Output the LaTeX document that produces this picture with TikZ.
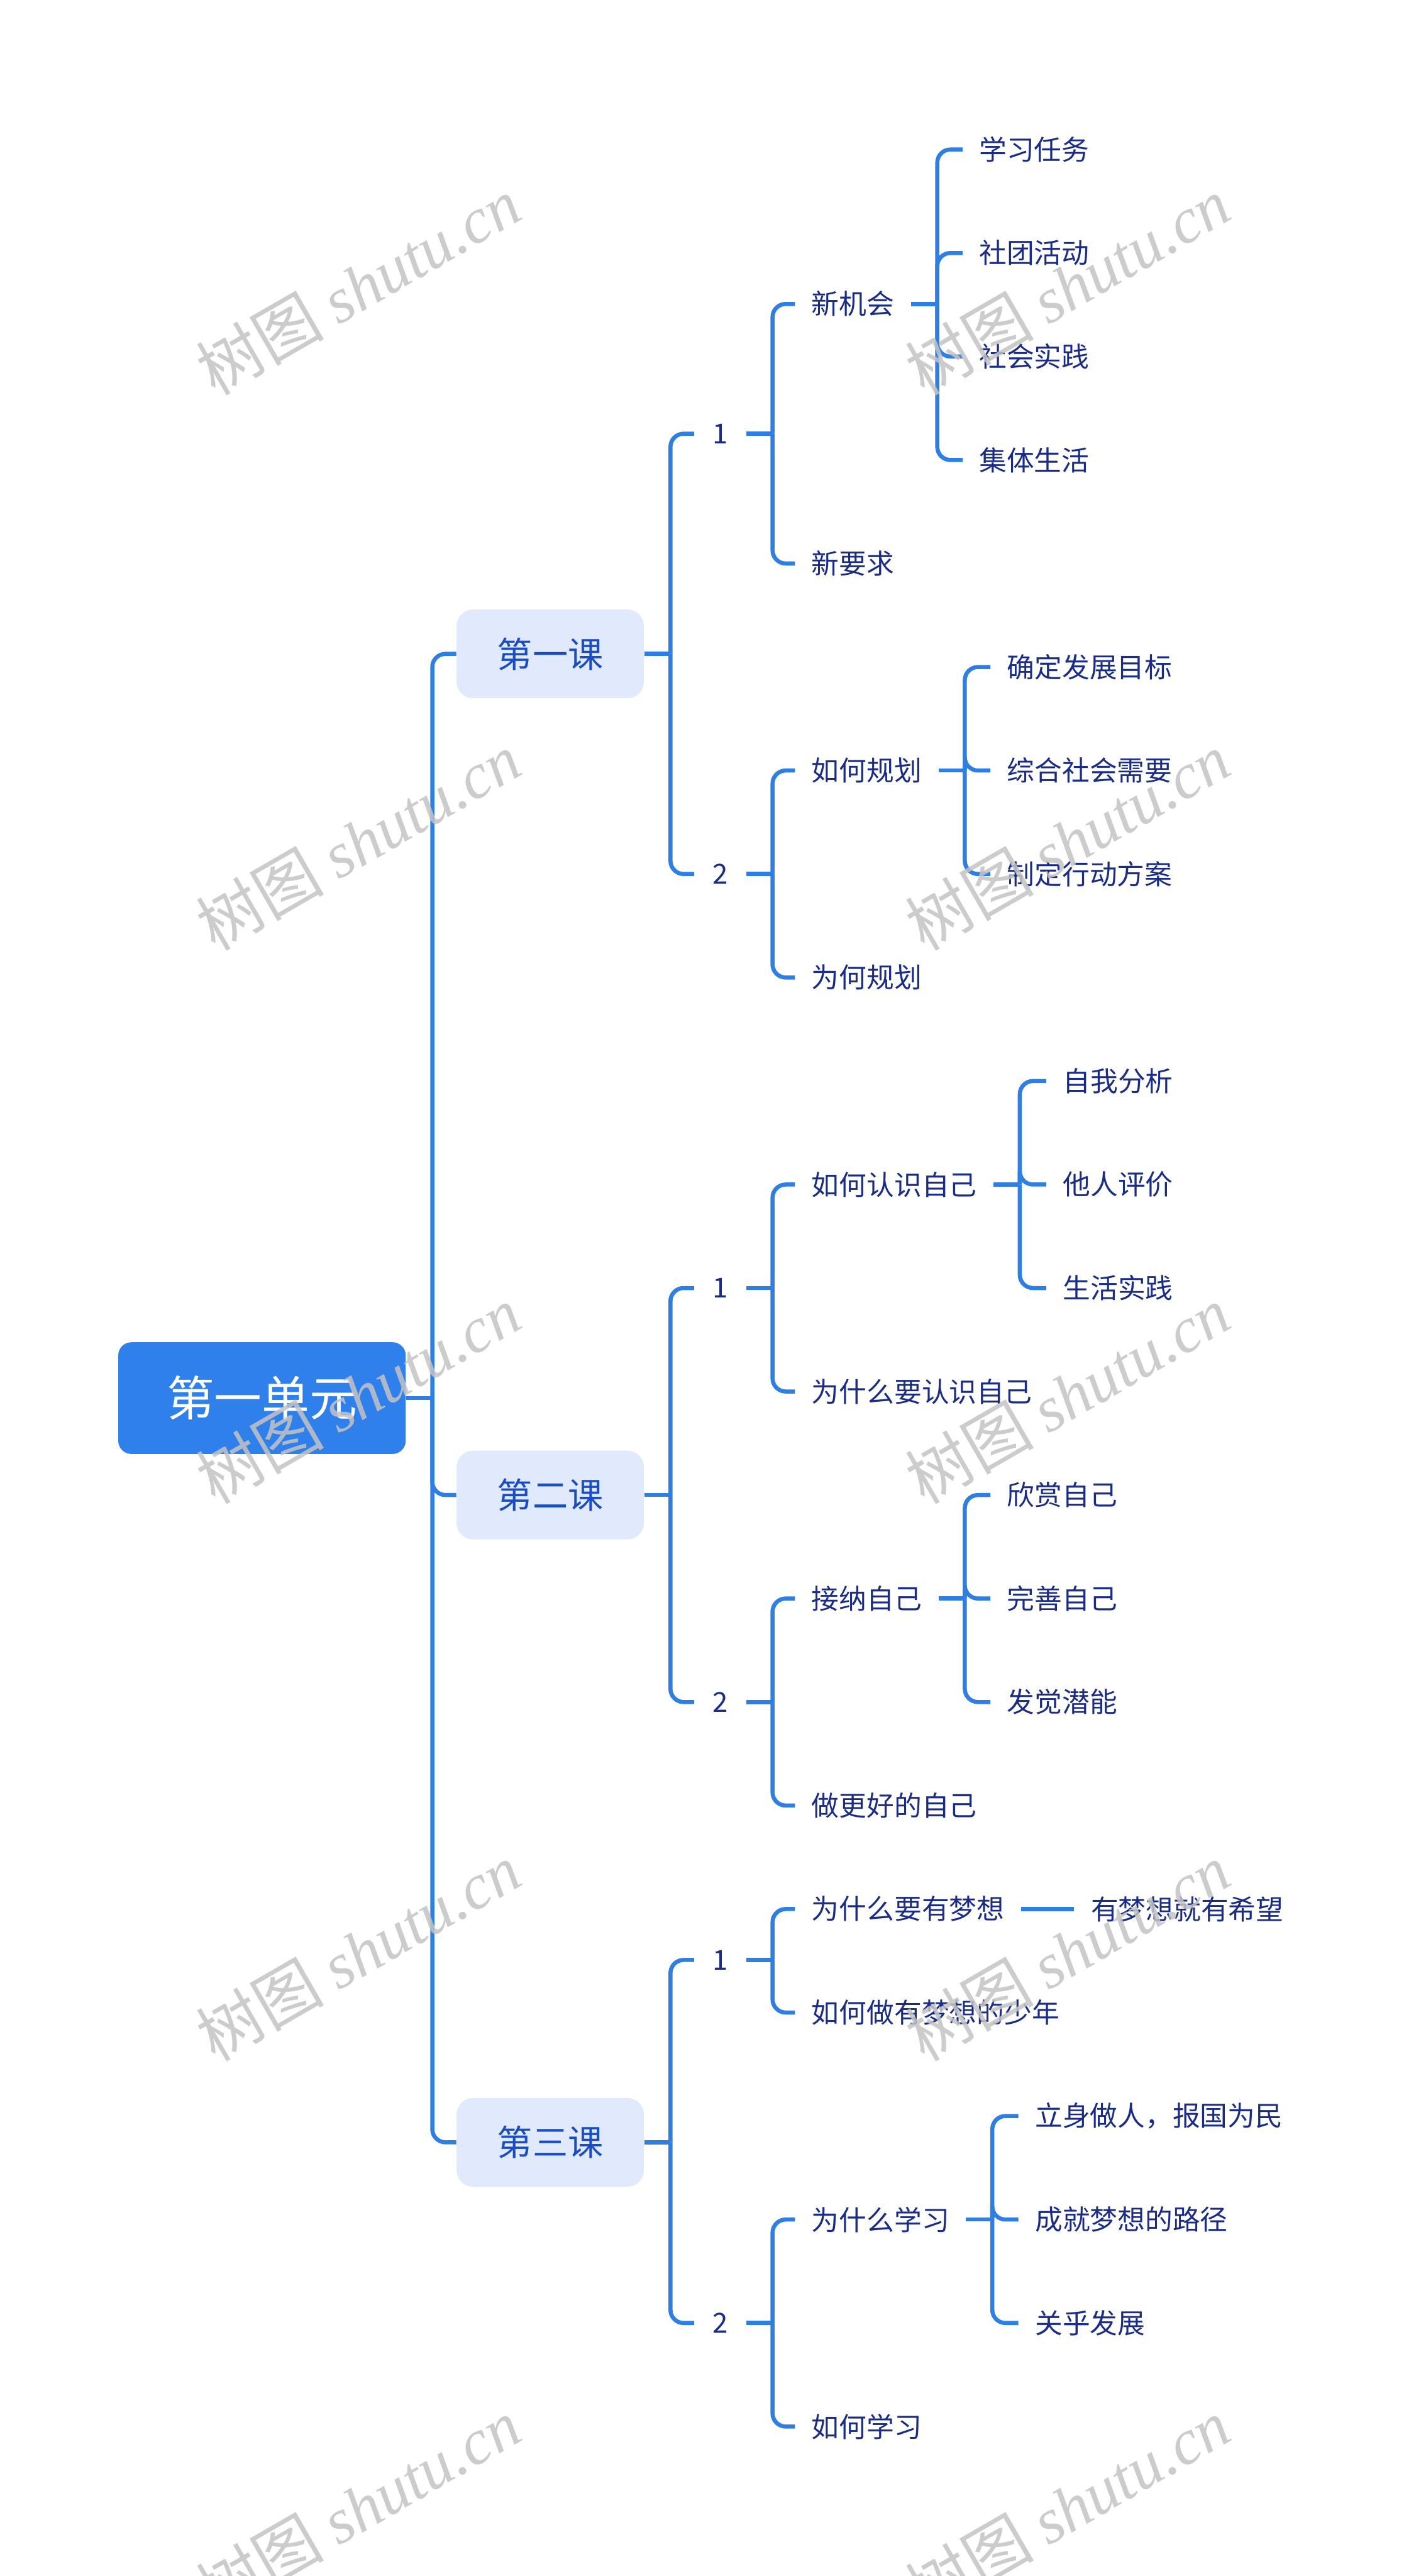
\documentclass[tikz,border=0pt]{standalone}
\usepackage{fontspec}
\setmainfont{Noto Sans CJK SC}
\newfontfamily\wmcjk{Noto Sans CJK SC}
\newfontfamily\wmlat{Liberation Serif}
\definecolor{lc}{HTML}{2F7FE3}
\definecolor{rootc}{HTML}{2F80EA}
\definecolor{lonefill}{HTML}{E1E9FC}
\definecolor{lonetext}{HTML}{1A4DC0}
\definecolor{leaftext}{HTML}{1B2C83}
\definecolor{wmc}{HTML}{C4C4C4}
\tikzset{
  conn/.style={draw=lc, line width=2.5pt},
  fork/.style={draw=lc, line width=2.5pt, rounded corners=8pt},
  rootbox/.style={fill=rootc, rounded corners=8pt, minimum width=175pt, minimum height=68pt, inner sep=0pt, text=white, font=\fontsize{29}{34}\selectfont},
  lonebox/.style={fill=lonefill, rounded corners=10pt, minimum width=114pt, minimum height=54pt, inner sep=0pt, text=lonetext, font=\fontsize{21.5}{26}\selectfont},
  leaf/.style={anchor=west, inner xsep=10pt, inner ysep=2pt, text=leaftext, font=\fontsize{16.75}{20}\selectfont},
  num/.style={inner xsep=11pt, inner ysep=2pt, text=leaftext, font=\fontsize{16.75}{20}\selectfont},
  wm/.style={text=wmc, opacity=0.85, font=\fontsize{39}{43}\selectfont, rotate=30, inner sep=0pt}
}
\newcommand\stub[1]{\draw[conn] (#1.east) -- ++(16,0);}
\newcommand\kid[2]{\draw[fork] (#1.east) ++(16,0) |- (#2.west);}
\begin{document}
\begin{tikzpicture}[x=1pt,y=-1pt]
\useasboundingbox (0,0) rectangle (865,1568);
\fill[white] (0,0) rectangle (865,1568);

% root and level 1
\node[rootbox] (r) at (159.5,851) {第一单元};
\node[lonebox] (k1) at (335,398) {第一课};
\node[lonebox] (k2) at (335,910) {第二课};
\node[lonebox] (k3) at (335,1304) {第三课};

% lesson 1
\node[num] (a1) at (438.5,264) {1};
\node[num] (a2) at (438.5,532) {2};
\node[leaf] (a11) at (484,185) {新机会};
\node[leaf] (a12) at (484,343) {新要求};
\node[leaf] (a111) at (586,91) {学习任务};
\node[leaf] (a112) at (586,154) {社团活动};
\node[leaf] (a113) at (586,217) {社会实践};
\node[leaf] (a114) at (586,280) {集体生活};
\node[leaf] (a21) at (484,469) {如何规划};
\node[leaf] (a22) at (484,595) {为何规划};
\node[leaf] (a211) at (603,406) {确定发展目标};
\node[leaf] (a212) at (603,469) {综合社会需要};
\node[leaf] (a213) at (603,532) {制定行动方案};

% lesson 2
\node[num] (b1) at (438.5,784) {1};
\node[num] (b2) at (438.5,1036) {2};
\node[leaf] (b11) at (484,721) {如何认识自己};
\node[leaf] (b12) at (484,847) {为什么要认识自己};
\node[leaf] (b111) at (637,658) {自我分析};
\node[leaf] (b112) at (637,721) {他人评价};
\node[leaf] (b113) at (637,784) {生活实践};
\node[leaf] (b21) at (484,973) {接纳自己};
\node[leaf] (b22) at (484,1099) {做更好的自己};
\node[leaf] (b211) at (603,910) {欣赏自己};
\node[leaf] (b212) at (603,973) {完善自己};
\node[leaf] (b213) at (603,1036) {发觉潜能};

% lesson 3
\node[num] (c1) at (438.5,1193) {1};
\node[num] (c2) at (438.5,1414) {2};
\node[leaf] (c11) at (484,1162) {为什么要有梦想};
\node[leaf] (c12) at (484,1225) {如何做有梦想的少年};
\node[leaf] (c111) at (654,1162) {有梦想就有希望};
\node[leaf] (c21) at (484,1351) {为什么学习};
\node[leaf] (c22) at (484,1477) {如何学习};
\node[leaf] (c211) at (620,1288) {立身做人，报国为民};
\node[leaf] (c212) at (620,1351) {成就梦想的路径};
\node[leaf] (c213) at (620,1414) {关乎发展};

% connectors
\stub{r} \kid{r}{k1} \kid{r}{k2} \kid{r}{k3}
\stub{k1} \kid{k1}{a1} \kid{k1}{a2}
\stub{k2} \kid{k2}{b1} \kid{k2}{b2}
\stub{k3} \kid{k3}{c1} \kid{k3}{c2}
\stub{a1} \kid{a1}{a11} \kid{a1}{a12}
\stub{a11} \kid{a11}{a111} \kid{a11}{a112} \kid{a11}{a113} \kid{a11}{a114}
\stub{a2} \kid{a2}{a21} \kid{a2}{a22}
\stub{a21} \kid{a21}{a211} \kid{a21}{a212} \kid{a21}{a213}
\stub{b1} \kid{b1}{b11} \kid{b1}{b12}
\stub{b11} \kid{b11}{b111} \kid{b11}{b112} \kid{b11}{b113}
\stub{b2} \kid{b2}{b21} \kid{b2}{b22}
\stub{b21} \kid{b21}{b211} \kid{b21}{b212} \kid{b21}{b213}
\stub{c1} \kid{c1}{c11} \kid{c1}{c12}
\draw[conn] (c11.east) -- (c111.west);
\stub{c2} \kid{c2}{c21} \kid{c2}{c22}
\stub{c21} \kid{c21}{c211} \kid{c21}{c212} \kid{c21}{c213}

% watermarks
\foreach \i/\yy in {1/174,2/512,3/849,4/1188,5/1526}{
  \node[wm] (wl\i) at (218,\yy) {{\wmcjk 树图} {\wmlat\itshape shutu.cn}};
  \node[wm] (wr\i) at (650,\yy) {{\wmcjk 树图} {\wmlat\itshape shutu.cn}};
}
\end{tikzpicture}
\end{document}
